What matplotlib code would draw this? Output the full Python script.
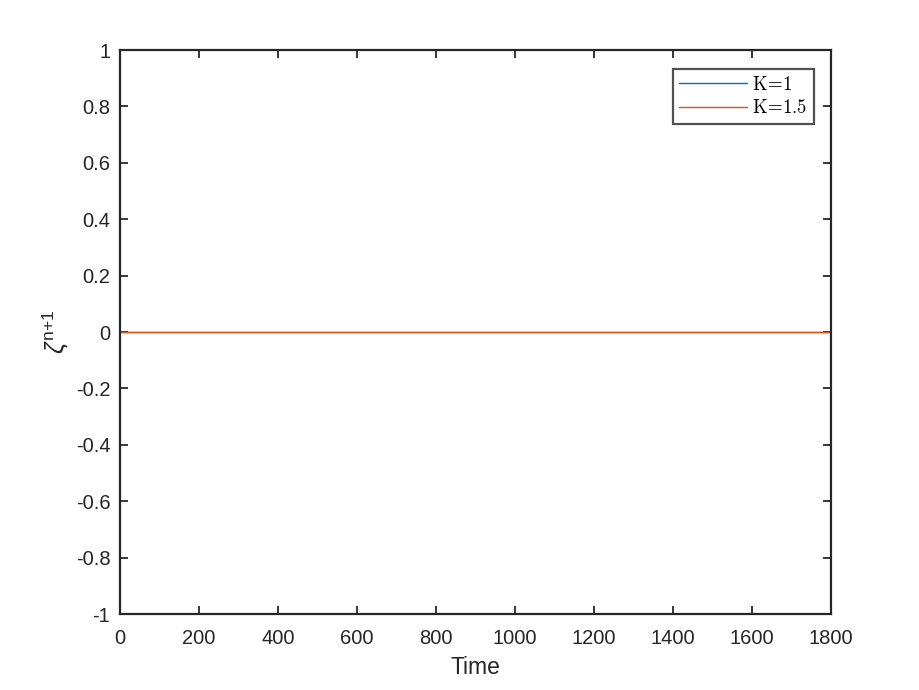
import matplotlib
matplotlib.use("Agg")
import matplotlib.pyplot as plt
from matplotlib.font_manager import FontProperties

time = [0, 1800]
zeta_k1 = [0.0, 0.0]
zeta_k15 = [0.0, 0.0]
labels = ["K=1", "K=1.5"]
xticks = [0, 200, 400, 600, 800, 1000, 1200, 1400, 1600, 1800]
yticks = [-1, -0.8, -0.6, -0.4, -0.2, 0, 0.2, 0.4, 0.6, 0.8, 1]

plt.rcParams['font.family'] = ['Liberation Sans', 'DejaVu Sans']
plt.rcParams['mathtext.fontset'] = 'custom'
plt.rcParams['mathtext.rm'] = 'Liberation Sans'
plt.rcParams['mathtext.it'] = 'Liberation Sans:italic'
plt.rcParams['mathtext.sf'] = 'Liberation Sans'

fig = plt.figure(figsize=(9.19, 6.9), dpi=100)
ax = fig.add_axes([120/919, 1-614/690, (831-120)/919, (614-50)/690])

ax.plot(time, zeta_k1, color='#0072BD', lw=1.0, label=r'$\mathrm{K\!=\!1}$')
ax.plot(time, zeta_k15, color='#D95319', lw=1.0, label=r'$\mathrm{K\!=\!1.5}$')

ax.set_xlim(0, 1800)
ax.set_ylim(-1, 1)
ax.set_xticks(xticks)
ax.set_xticklabels([str(v) for v in xticks])
ax.set_yticks(yticks)
ax.set_yticklabels([("%g" % v) for v in yticks])

dark = '#262626'
for s in ax.spines.values():
    s.set_color(dark)
    s.set_linewidth(1.6)
ax.tick_params(direction='in', length=6, width=1.3, colors=dark, labelsize=14.5,
               top=True, right=True, labelcolor='#262626')
ax.tick_params(axis='x', pad=10.5)
ax.tick_params(axis='y', pad=7)

ax.set_xlabel('Time', fontsize=16.5, color=dark, labelpad=6)
ax.set_ylabel(r'$\zeta^{\mathrm{n{+}1}}$', fontsize=18, color=dark, labelpad=3)

prop = FontProperties(size=13.5, math_fontfamily='cm')
leg = ax.legend(loc='upper right', prop=prop, frameon=True, fancybox=False,
                edgecolor=dark, handlelength=3.6, borderaxespad=0.0,
                bbox_to_anchor=(814/919, 1-69/690), bbox_transform=fig.transFigure,
                labelspacing=0.3, handletextpad=0.3, borderpad=0.35)
leg.get_frame().set_linewidth(1.6)

fig.savefig('out.png', dpi=100)
